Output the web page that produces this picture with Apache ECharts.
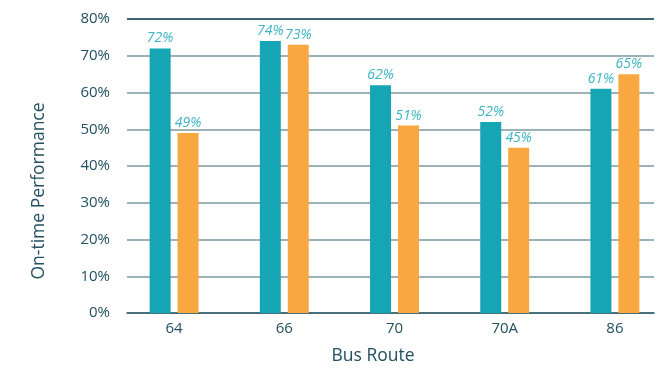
<!DOCTYPE html>
<html><head><meta charset="utf-8">
<script src="https://cdn.jsdelivr.net/npm/echarts@6/dist/echarts.min.js"></script>
<style>html,body{margin:0;padding:0;background:#fff}#c{width:670px;height:369px}</style>
</head><body><div id="c"></div>
<script>
const categories = ['64', '66', '70', '70A', '86'];
const seriesA = [72, 74, 62, 52, 61];
const seriesB = [49, 73, 51, 45, 65];
const yTicks = [0, 10, 20, 30, 40, 50, 60, 70, 80];

const chart = echarts.init(document.getElementById('c'), null, {renderer: 'canvas'});
const font = 'Open Sans';
const dark = '#23505f';
const labelStyle = {
  show: true, position: 'top', distance: 3,
  formatter: p => p.value + '%',
  color: '#3cb4c4', fontStyle: 'italic', fontSize: 14, fontFamily: font
};
chart.setOption({
  animation: false,
  grid: [
    {left: 127, right: 16, top: 19, bottom: 56},
    {left: 119, width: 555, top: 19, bottom: 56}
  ],
  xAxis: [
    {gridIndex: 0, type: 'category', data: categories,
     axisLine: {show: true, lineStyle: {color: '#2c5a68', width: 1.5}},
     axisTick: {show: false}, axisLabel: {show: false}},
    {gridIndex: 1, type: 'category', data: categories,
     axisLine: {show: false}, axisTick: {show: false},
     axisLabel: {color: dark, fontSize: 15, fontFamily: font, margin: 8}}
  ],
  yAxis: [
    {gridIndex: 0, type: 'value', min: 0, max: 80, interval: 10,
     axisLine: {show: false}, axisTick: {show: false},
     axisLabel: {color: dark, fontSize: 15, fontFamily: font, margin: 17,
                 formatter: v => yTicks.includes(v) ? v + '%' : ''},
     splitLine: {lineStyle: {color: '#7d97a1', width: 1.5}}},
    {gridIndex: 1, type: 'value', min: 0, max: 80, show: false}
  ],
  graphic: [
    {type: 'line', shape: {x1: 127, y1: 19, x2: 654, y2: 19}, style: {stroke: '#1f4c5a', lineWidth: 1.5}, z: 5},
    {type: 'text', x: 39, y: 191, rotation: Math.PI / 2,
     style: {text: 'On-time Performance', fill: dark, font: '17.5px "Open Sans"', textAlign: 'center', textVerticalAlign: 'middle'}},
    {type: 'text', x: 373, y: 356,
     style: {text: 'Bus Route', fill: dark, font: '17.5px "Open Sans"', textAlign: 'center', textVerticalAlign: 'middle'}}
  ],
  series: [
    {type: 'bar', xAxisIndex: 1, yAxisIndex: 1, data: seriesA, barWidth: 21, barGap: '33%',
     itemStyle: {color: '#16a5b5'}, label: labelStyle},
    {type: 'bar', xAxisIndex: 1, yAxisIndex: 1, data: seriesB, barWidth: 21, barGap: '33%',
     itemStyle: {color: '#f9a740'}, label: labelStyle}
  ]
});
</script></body></html>
